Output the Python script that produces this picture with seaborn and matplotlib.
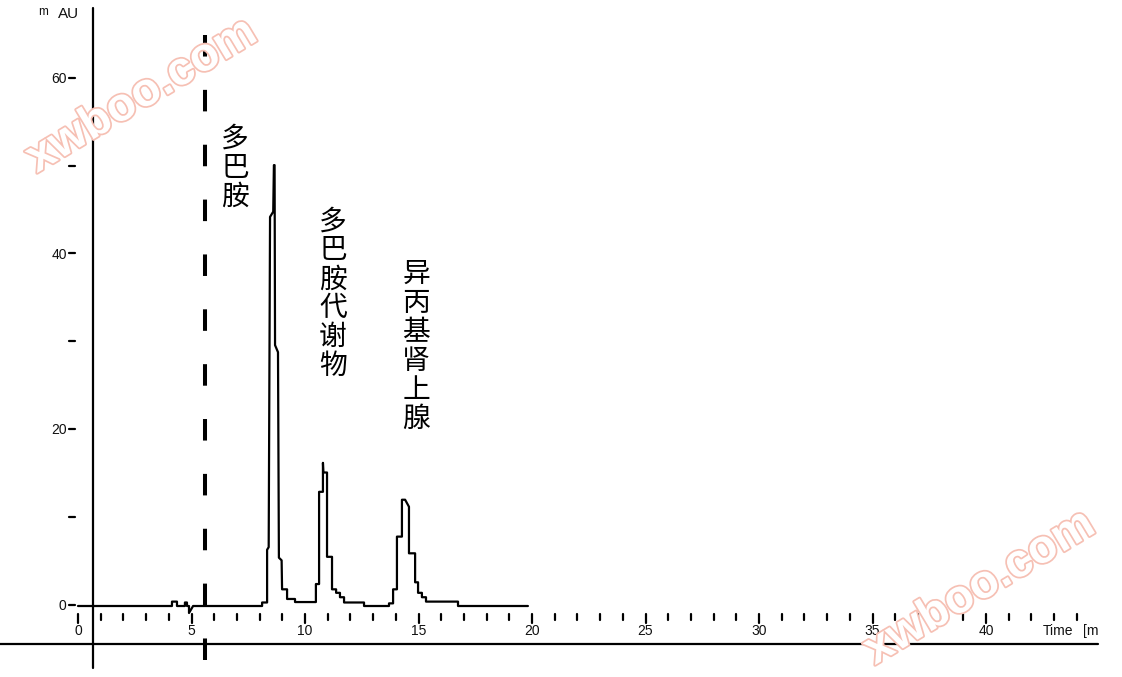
import numpy as np
import pandas as pd
import matplotlib
matplotlib.use("Agg")
import matplotlib.pyplot as plt
import matplotlib.patheffects as pe
import seaborn as sns

# chromatogram trace (time in min, signal in mAU)
time_min = [0.0, 4.14, 4.14, 4.36, 4.36, 4.71, 4.71, 4.80, 4.80, 4.89, 4.89, 5.07,
            8.11, 8.11, 8.33, 8.33, 8.40, 8.46, 8.60, 8.63, 8.66, 8.68, 8.81, 8.85,
            8.97, 8.99, 9.21, 9.21, 9.56, 9.56,
            10.48, 10.48, 10.62, 10.62, 10.79, 10.79, 10.81, 10.97, 10.97, 11.19,
            11.19, 11.37, 11.37, 11.54, 11.54, 11.72, 11.72, 12.60, 12.60,
            13.70, 13.70, 13.88, 13.88, 14.05, 14.05, 14.27, 14.27, 14.41, 14.58,
            14.58, 14.85, 14.85, 14.98, 14.98, 15.15, 15.15, 15.33, 15.33, 16.74,
            16.74, 19.82]
signal_mau = [0.0, 0.0, 0.5, 0.5, 0.0, 0.0, 0.4, 0.4, 0.0, 0.0, -0.8, 0.0,
              0.0, 0.4, 0.4, 6.4, 6.7, 44.3, 44.9, 50.2, 50.2, 29.7, 28.9, 5.5,
              5.2, 1.9, 1.9, 0.8, 0.8, 0.45,
              0.45, 2.5, 2.5, 13.0, 13.0, 16.3, 15.2, 15.2, 5.6, 5.6,
              1.9, 1.9, 1.5, 1.5, 1.0, 1.0, 0.4, 0.4, 0.0,
              0.0, 0.3, 0.3, 1.9, 1.9, 7.9, 7.9, 12.1, 12.1, 11.3,
              6.0, 6.0, 2.7, 2.7, 1.5, 1.5, 1.0, 1.0, 0.5, 0.5,
              0.0, 0.0]

# peak labels (retention time of label column, top of label in mAU)
peak_names = ["多巴胺", "多巴胺代谢物", "异丙基肾上腺"]
label_time = [6.92, 11.23, 14.89]
label_top = [53.2, 43.8, 37.8]

y_ticks = [0, 10, 20, 30, 40, 50, 60]
y_tick_labels = {0: "0", 20: "20", 40: "40", 60: "60"}
x_ticks = list(range(0, 45))
x_major = list(range(0, 45, 5))
inject_time = 5.59

sns.set_style("white")
plt.rcParams["font.family"] = ["Liberation Sans", "DejaVu Sans"]
plt.rcParams["lines.scale_dashes"] = False

fig = plt.figure(figsize=(11.22, 6.77), dpi=100)
ax = fig.add_axes([0, 0, 1, 1])
ax.set_xlim(-3.436, 45.99)
ax.set_ylim(-8.084, 69.0)
ax.axis("off")

df = pd.DataFrame({"time": time_min, "mAU": signal_mau})
sns.lineplot(data=df, x="time", y="mAU", sort=False, estimator=None,
             color="black", lw=1.6, ax=ax, zorder=3)

# frame lines
ax.plot([0.66, 0.66], [68.1, -7.06], color="black", lw=1.6, zorder=2)
ax.plot([-3.44, 44.93], [-4.33, -4.33], color="black", lw=1.6, zorder=2)
ax.plot([inject_time, inject_time], [65.0, -6.15], color="black", lw=2.9,
        linestyle=(0, (15.5, 24.0)), zorder=2)

# y ticks
for v in y_ticks:
    ax.plot([-0.40, -0.13], [v + 0.15, v + 0.15], color="black", lw=1.6)
    if v in y_tick_labels:
        ax.text(-0.50, v, y_tick_labels[v], ha="right", va="center",
                fontsize=10, color="#111111")

# x ticks
for t in x_ticks:
    low = -1.94 if t in x_major else -1.59
    ax.plot([t, t], [-0.91, low], color="black", lw=1.6)
for t in x_major:
    ax.text(t, -2.85, str(t), ha="center", va="center", fontsize=10, color="#111111")

ax.text(42.5, -2.85, "Time", ha="left", va="center", fontsize=10, color="#111111")
ax.text(44.27, -2.85, "[m", ha="left", va="center", fontsize=10, color="#111111")
ax.text(-1.54, 67.6, "m", ha="center", va="center", fontsize=8.5, color="#111111")
ax.text(-0.40, 67.4, "AU", ha="center", va="center", fontsize=11, color="#111111")

# peak labels, one character per row
pitch = 3.30
for name, t, top in zip(peak_names, label_time, label_top):
    for i, ch in enumerate(name):
        ax.text(t, top - i * pitch, ch, ha="center", va="center", fontsize=20,
                family=["Noto Sans CJK SC", "DejaVu Sans"], color="black")

# watermarks
for wx, wy in [(142, 96), (980, 588)]:
    fig.text(wx / 1122, 1 - wy / 677, "xwboo.com", ha="center", va="center",
             rotation=31, fontsize=34, fontweight="bold",
             color="white", zorder=10,
             path_effects=[pe.withStroke(linewidth=2.5, foreground="#f6c0b4")])

fig.savefig("out.png", dpi=100)
